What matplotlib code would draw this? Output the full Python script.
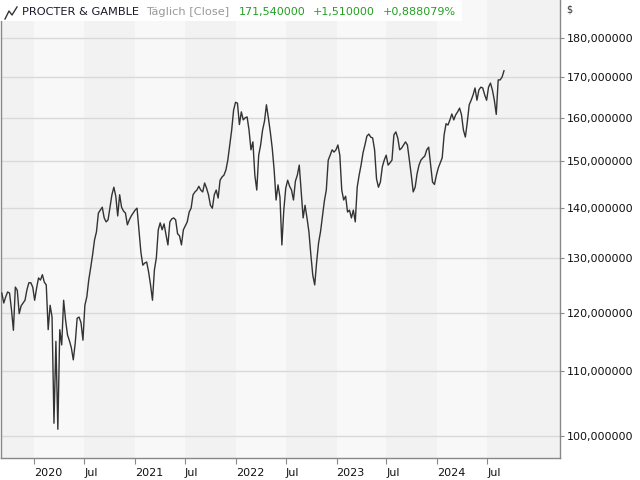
import numpy as np
import pandas as pd
import matplotlib
matplotlib.use('Agg')
import matplotlib.pyplot as plt
from matplotlib.lines import Line2D
from matplotlib.patches import Rectangle
from matplotlib.ticker import FixedLocator, FuncFormatter, NullLocator

# weekly closes (Sep 2019 - Aug 2024)
close = [123.5, 121.7, 122.8, 123.7, 123.5, 120.5, 116.9, 124.6, 124.0, 119.8,
         121.2, 121.7, 122.2, 124.1, 125.4, 125.4, 124.6, 122.2, 124.4, 126.3,
         125.9, 126.9, 125.5, 125.0, 117.0, 121.3, 119.2, 101.9, 115.0, 101.0,
         117.0, 114.4, 122.2, 118.7, 116.1, 115.1, 113.9, 111.9, 114.7, 119.0,
         119.2, 118.2, 115.2, 121.3, 122.8, 125.9, 128.2, 130.7, 133.6, 135.2,
         139.0, 139.6, 140.2, 138.0, 137.2, 137.6, 140.2, 142.8, 144.4, 142.5,
         138.4, 142.8, 140.2, 139.4, 139.0, 136.6, 137.6, 138.4, 139.0, 139.6,
         140.0, 135.6, 131.2, 128.7, 129.1, 129.3, 127.4, 125.0, 122.2, 127.8,
         130.1, 135.6, 137.0, 135.6, 136.8, 134.6, 132.6, 137.2, 137.8, 138.0,
         137.6, 134.8, 134.4, 132.6, 135.6, 136.4, 137.2, 139.2, 140.0, 142.8,
         143.4, 143.8, 144.6, 143.8, 143.4, 145.3, 144.2, 142.8, 140.6, 140.0,
         142.8, 143.8, 142.1, 145.9, 146.6, 147.0, 148.1, 150.3, 153.7, 157.1,
         161.8, 163.7, 163.5, 158.4, 161.4, 159.5, 160.0, 160.2, 157.1, 152.6,
         154.4, 147.0, 143.8, 151.4, 153.7, 157.1, 159.2, 163.1, 160.0, 156.7,
         153.0, 148.1, 141.7, 144.9, 142.3, 132.6, 139.6, 144.2, 145.9, 144.6,
         143.8, 141.7, 145.7, 147.0, 149.2, 143.4, 138.0, 140.6, 138.0, 135.2,
         130.7, 126.8, 125.0, 129.3, 133.0, 135.2, 138.4, 141.5, 143.8, 150.3,
         151.4, 152.6, 152.1, 152.6, 153.7, 151.4, 143.8, 141.7, 142.5, 139.2,
         139.6, 138.0, 139.6, 137.2, 144.4, 147.0, 149.2, 151.9, 153.7, 155.7,
         156.2, 155.5, 155.3, 152.6, 146.2, 144.4, 145.5, 148.8, 150.3, 151.4,
         149.2, 149.7, 150.3, 156.0, 156.7, 155.3, 152.6, 153.0, 153.7, 154.4,
         153.7, 150.3, 147.0, 143.4, 144.4, 147.3, 149.2, 150.3, 150.8, 151.2,
         152.6, 153.2, 149.2, 145.5, 145.0, 147.0, 148.6, 149.7, 150.8, 156.0,
         158.6, 158.3, 159.5, 160.9, 159.5, 160.7, 161.4, 162.3, 160.7, 157.1,
         155.5, 159.0, 163.1, 164.2, 165.5, 167.2, 164.2, 166.7, 167.4, 167.2,
         165.5, 164.2, 167.4, 168.4, 166.7, 164.2, 160.8, 169.2, 169.2, 169.9,
         171.5]
dates = pd.date_range('2019-09-06', periods=len(close), freq='7D')

y_ticks = [100, 110, 120, 130, 140, 150, 160, 170, 180]
x_tick_dates = pd.to_datetime(['2020-01-01', '2020-07-01', '2021-01-01', '2021-07-01',
                               '2022-01-01', '2022-07-01', '2023-01-01', '2023-07-01',
                               '2024-01-01', '2024-07-01'])
x_tick_labels = ['2020', 'Jul', '2021', 'Jul', '2022', 'Jul', '2023', 'Jul', '2024', 'Jul']

fig = plt.figure(figsize=(6.4, 4.8), dpi=100)
ax = fig.add_axes([1/640, 22/480, 559/640, 458/480])

x0 = pd.Timestamp('2019-09-03')
x1 = pd.Timestamp('2025-03-21')

# half-year background bands
for yr in range(2019, 2025):
    h1 = pd.Timestamp(f'{yr}-01-01')
    h2 = pd.Timestamp(f'{yr}-07-01')
    h3 = pd.Timestamp(f'{yr+1}-01-01')
    ax.axvspan(h1, h2, color='#f8f8f8', lw=0, zorder=0)
    end = h3 if yr < 2024 else x1
    ax.axvspan(h2, end, color='#f2f2f2', lw=0, zorder=0)

ax.plot(dates, close, color='#333333', lw=1.0, zorder=3)

ax.set_yscale('log')
ax.set_ylim(96.8, 190.4)
ax.set_xlim(x0, x1)

ax.yaxis.tick_right()
ax.yaxis.set_major_locator(FixedLocator(y_ticks))
ax.yaxis.set_minor_locator(NullLocator())
ax.yaxis.set_major_formatter(FuncFormatter(lambda v, p: ('%.6f' % v).replace('.', ',')))
ax.tick_params(axis='y', which='major', length=3, color='#888888', labelsize=8,
               pad=2, labelcolor='#111111')

ax.set_xticks(x_tick_dates)
ax.set_xticklabels(x_tick_labels)
ax.xaxis.set_minor_locator(NullLocator())
for lab in ax.get_xticklabels():
    lab.set_ha('left')
ax.tick_params(axis='x', length=4, color='#888888', labelsize=8, pad=3,
               labelcolor='#111111')

ax.grid(axis='y', color='#d9d9d9', lw=1)
ax.set_axisbelow(True)

for s in ['left', 'bottom', 'right']:
    ax.spines[s].set_color('#888888')
    ax.spines[s].set_linewidth(1)
ax.spines['top'].set_visible(False)

# title strip
fig.add_artist(Rectangle((0, 1 - 21/480), 462/640, 21/480, transform=fig.transFigure,
                         facecolor='white', edgecolor='none', zorder=4))
icon_x = np.array([5, 9, 12, 17]) / 640
icon_y = 1 - np.array([19, 11, 15, 7]) / 480
fig.add_artist(Line2D(icon_x, icon_y, color='#333333', lw=1, transform=fig.transFigure, zorder=5))

ty = 1 - 12/480
fig.text(22/640, ty, 'PROCTER & GAMBLE', color='#1a1a2a', fontsize=8.2, va='center', zorder=5)
fig.text(146/640, ty, 'Täglich [Close]', color='#999999', fontsize=8.2, va='center', zorder=5)
fig.text(239/640, ty, '171,540000', color='#22a022', fontsize=8, va='center', zorder=5)
fig.text(313/640, ty, '+1,510000', color='#22a022', fontsize=8, va='center', zorder=5)
fig.text(383/640, ty, '+0,888079%', color='#22a022', fontsize=8, va='center', zorder=5)
fig.text(566/640, 1 - 10/480, '$', color='#333333', fontsize=7, va='center')

fig.savefig('out.png', dpi=100)
